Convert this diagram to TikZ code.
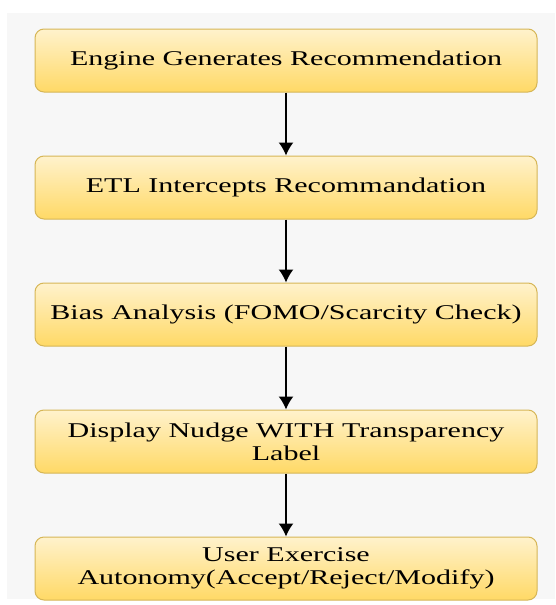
\documentclass[tikz,border=0pt]{standalone}
\usepackage{fontspec}
\setmainfont[FakeStretch=1.43]{Liberation Serif}
\usetikzlibrary{positioning,arrows.meta}
\definecolor{boxtop}{HTML}{FFF2CC}
\definecolor{boxbot}{HTML}{FFD966}
\definecolor{boxline}{HTML}{D6B656}
\definecolor{panel}{HTML}{F7F7F7}
\tikzset{>={Latex[length=13pt,width=15pt]}}
\tikzset{stepbox/.style={draw=boxline, line width=1pt, rounded corners=9pt,
    top color=boxtop, bottom color=boxbot,
    minimum width=502pt, minimum height=63pt, align=center,
    font=\fontsize{21}{23}\selectfont}}

\begin{document}
\begin{tikzpicture}[x=1pt,y=1pt]
  \useasboundingbox (0,0) rectangle (555,-605);
  \fill[white] (0,0) rectangle (555,-605);
  \fill[panel] (7,-13) rectangle (555,-599);
  \node[stepbox] (engine) at (286,-60.5) {Engine Generates Recommendation};
  \node[stepbox, below=63pt of engine] (etl) {ETL Intercepts Recommandation};
  \node[stepbox, below=63pt of etl] (bias) {Bias Analysis (FOMO/Scarcity Check)};
  \node[stepbox, below=63pt of bias] (nudge) {Display Nudge WITH Transparency\\Label};
  \node[stepbox, below=63pt of nudge] (user) {User Exercise\\Autonomy(Accept/Reject/Modify)};
  \draw[->,line width=1.5pt] (engine) -- (etl);
  \draw[->,line width=1.5pt] (etl) -- (bias);
  \draw[->,line width=1.5pt] (bias) -- (nudge);
  \draw[->,line width=1.5pt] (nudge) -- (user);
\end{tikzpicture}
\end{document}
